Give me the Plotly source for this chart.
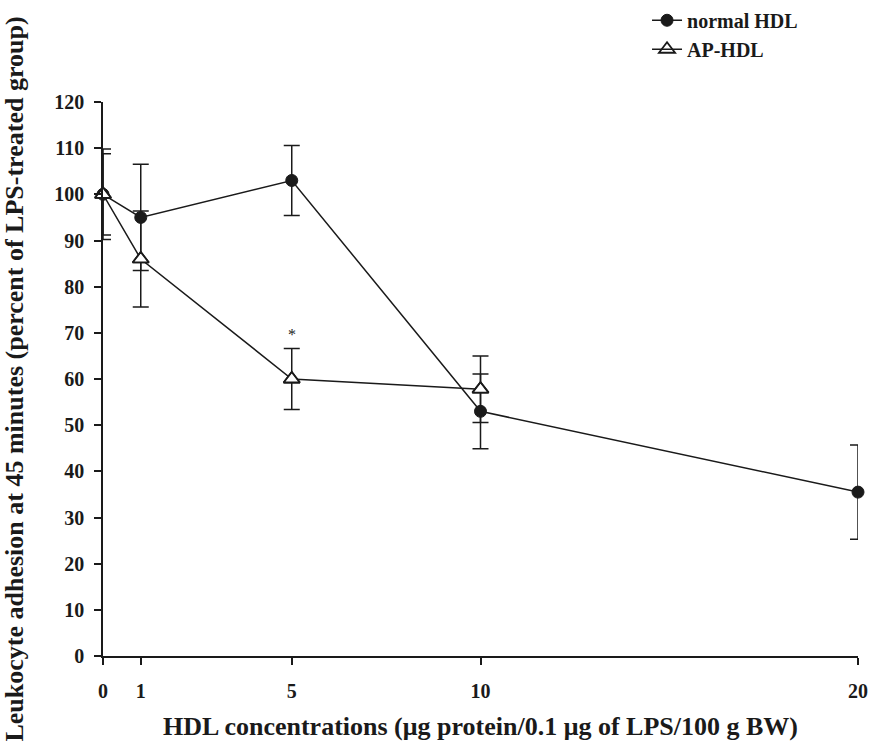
import plotly.graph_objects as go

# HDL concentration (µg protein / 0.1 µg LPS / 100 g BW)
conc_normal = [0, 1, 5, 10, 20]
normal_hdl = [100, 95, 103, 53, 35.5]
normal_err = [9.8, 11.5, 7.6, 8.1, 10.2]

conc_ap = [0, 1, 5, 10]
ap_hdl = [100, 86, 60, 57.8]
ap_err = [8.8, 10.4, 6.6, 7.2]

x_ticks = [0, 1, 5, 10, 20]
y_ticks = list(range(0, 121, 10))

FONT = "Liberation Serif"
INK = "#1a1a1a"

fig = go.Figure()

fig.add_trace(go.Scatter(
    x=conc_normal, y=normal_hdl, name="normal HDL", mode="lines+markers",
    line=dict(color=INK, width=1.5),
    marker=dict(symbol="circle", size=12, color=INK, line=dict(color=INK, width=1)),
    error_y=dict(type="data", array=normal_err, visible=True, color=INK, thickness=1.5, width=8),
    cliponaxis=False,
))
fig.add_trace(go.Scatter(
    x=conc_ap, y=ap_hdl, name="AP-HDL", mode="lines+markers",
    line=dict(color=INK, width=1.5),
    marker=dict(symbol="triangle-up-open", size=14, color=INK, line=dict(color=INK, width=1.8)),
    error_y=dict(type="data", array=ap_err, visible=True, color=INK, thickness=1.5, width=8),
    cliponaxis=False,
))
# white fill behind open triangles
fig.add_trace(go.Scatter(
    x=conc_ap, y=ap_hdl, mode="markers", showlegend=False, hoverinfo="skip",
    marker=dict(symbol="triangle-up", size=12, color="white"),
    cliponaxis=False,
))
fig.add_trace(go.Scatter(
    x=conc_ap, y=ap_hdl, mode="markers", showlegend=False, hoverinfo="skip",
    marker=dict(symbol="triangle-up-open", size=14, color=INK, line=dict(color=INK, width=1.8)),
    cliponaxis=False,
))

fig.add_annotation(x=5, y=ap_hdl[2] + ap_err[2] + 3, text="*", showarrow=False,
                   font=dict(family=FONT, size=16, color=INK))

fig.update_layout(
    width=872, height=753,
    margin=dict(l=103, r=14, t=102, b=97, pad=0, autoexpand=False),
    paper_bgcolor="white", plot_bgcolor="white",
    font=dict(family=FONT, color=INK),
    showlegend=True,
    legend=dict(xref="container", yref="container", x=0.742, y=0.999,
                xanchor="left", yanchor="top",
                font=dict(family=FONT, size=20, color=INK, weight="bold"),
                bgcolor="rgba(0,0,0,0)", traceorder="normal"),
    xaxis=dict(range=[0, 20], tickvals=x_ticks, ticktext=[str(v) for v in x_ticks],
               automargin=False,
               showline=True, linecolor=INK, linewidth=1.5, ticks="outside", ticklen=7,
               tickwidth=1.5, tickcolor=INK, showgrid=False, zeroline=False,
               tickfont=dict(family=FONT, size=20, color=INK, weight="bold"),
               ticklabelstandoff=9,
               title=dict(text="HDL concentrations (μg protein/0.1 μg of LPS/100 g BW)",
                          font=dict(family=FONT, size=26, color=INK, weight="bold"),
                          standoff=16)),
    yaxis=dict(range=[0, 120], tickvals=y_ticks,
               automargin=False,
               showline=True, linecolor=INK, linewidth=1.5, ticks="outside", ticklen=7,
               tickwidth=1.5, tickcolor=INK, showgrid=False, zeroline=False,
               tickfont=dict(family=FONT, size=20, color=INK, weight="bold"),
               ticklabelstandoff=6,
               title=dict(text="Leukocyte adhesion at 45 minutes (percent of LPS-treated group)",
                          font=dict(family=FONT, size=26, color=INK, weight="bold"),
                          standoff=24)),
)

fig.write_html("out.html")
